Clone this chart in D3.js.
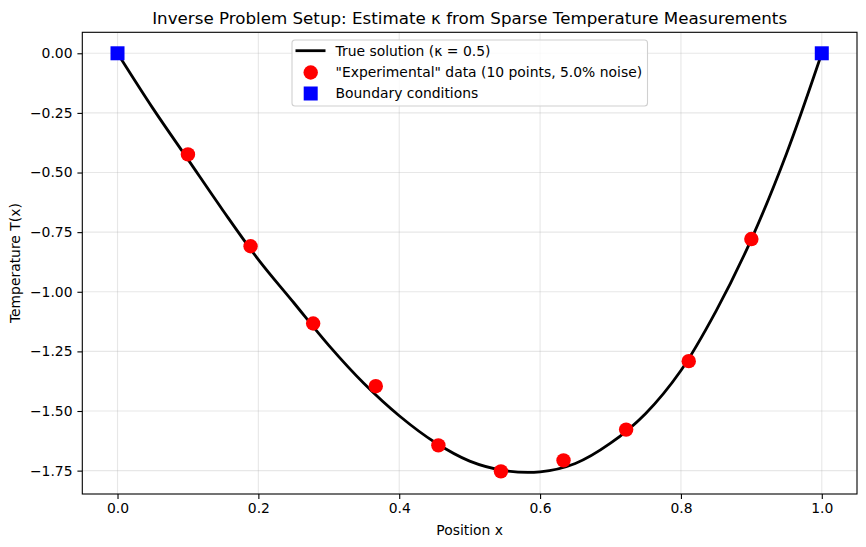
<!DOCTYPE html>
<html>
<head>
<meta charset="utf-8">
<script src="https://cdn.jsdelivr.net/npm/d3@7"></script>
<style>
  body { margin: 0; background: #fff; }
  text { font-family: "DejaVu Sans", sans-serif; fill: #000; }
</style>
</head>
<body>
<div id="chart"></div>
<script>
// True solution at steps of 0.05
var curveX = [0, 0.05, 0.1, 0.15, 0.2, 0.25, 0.3, 0.35, 0.4, 0.45, 0.5,
              0.55, 0.6, 0.65, 0.7, 0.75, 0.8, 0.85, 0.9, 0.95, 1.0];
var curveT = [0, -0.230, -0.445, -0.660, -0.865, -1.045, -1.225, -1.385, -1.520, -1.630, -1.710,
              -1.750, -1.755, -1.720, -1.635, -1.510, -1.330, -1.080, -0.780, -0.420, 0];

// "Experimental" measurements
var dataX = [0.1, 0.1889, 0.2778, 0.3667, 0.4556, 0.5444, 0.6333, 0.7222, 0.8111, 0.9];
var dataT = [-0.424, -0.809, -1.133, -1.396, -1.644, -1.753, -1.707, -1.578, -1.291, -0.779];

// Boundary conditions
var bcX = [0, 1];
var bcT = [0, 0];

var xTicks = [0, 0.2, 0.4, 0.6, 0.8, 1.0];
var yTicks = [0, -0.25, -0.5, -0.75, -1.0, -1.25, -1.5, -1.75];

var legendLabels = ["True solution (\u03ba = 0.5)",
                    "\"Experimental\" data (10 points, 5.0% noise)",
                    "Boundary conditions"];

var width = 866, height = 547;
var plot = {left: 82.3, right: 857, top: 32.3, bottom: 494};

var svg = d3.select("#chart")
    .append("svg")
    .attr("width", width)
    .attr("height", height);

var x = d3.scaleLinear()
    .domain([-0.05, 1.05])
    .range([plot.left, plot.right]);

var y = d3.scaleLinear()
    .domain([0.088, -1.848])
    .range([plot.top, plot.bottom]);

// Grid
svg.append("g")
    .selectAll("line")
    .data(xTicks)
    .enter()
    .append("line")
    .attr("x1", d => x(d)).attr("x2", d => x(d))
    .attr("y1", plot.top).attr("y2", plot.bottom)
    .attr("stroke", "#b0b0b0").attr("stroke-opacity", 0.3).attr("stroke-width", 1.1);

svg.append("g")
    .selectAll("line")
    .data(yTicks)
    .enter()
    .append("line")
    .attr("y1", d => y(d)).attr("y2", d => y(d))
    .attr("x1", plot.left).attr("x2", plot.right)
    .attr("stroke", "#b0b0b0").attr("stroke-opacity", 0.3).attr("stroke-width", 1.1);

// Axes
var xAxis = svg.append("g")
    .attr("transform", "translate(0," + plot.bottom + ")")
    .call(d3.axisBottom(x).tickValues(xTicks).tickFormat(d3.format(".1f")).tickSize(4.9).tickPadding(4.5));

var yAxis = svg.append("g")
    .attr("transform", "translate(" + plot.left + ",0)")
    .call(d3.axisLeft(y).tickValues(yTicks).tickFormat(d3.format(".2f")).tickSize(4.9).tickPadding(4.9));

[xAxis, yAxis].forEach(function(g) {
    g.select(".domain").remove();
    g.selectAll(".tick line").attr("stroke", "#000").attr("stroke-width", 1.1);
    g.selectAll(".tick text").style("font-size", "13.9px").attr("fill", "#000")
        .style("font-family", "DejaVu Sans, sans-serif");
});

// Frame
svg.append("rect")
    .attr("x", plot.left).attr("y", plot.top)
    .attr("width", plot.right - plot.left)
    .attr("height", plot.bottom - plot.top)
    .attr("fill", "none")
    .attr("stroke", "#000")
    .attr("stroke-width", 1.1);

// True solution line
var line = d3.line()
    .x(d => x(d[0]))
    .y(d => y(d[1]))
    .curve(d3.curveCatmullRom);

svg.append("path")
    .datum(curveX.map((v, i) => [v, curveT[i]]))
    .attr("d", line)
    .attr("fill", "none")
    .attr("stroke", "#000")
    .attr("stroke-width", 2.8);

// Measurements
svg.selectAll("dataPoint")
    .data(dataX.map((v, i) => [v, dataT[i]]))
    .enter()
    .append("circle")
    .attr("cx", d => x(d[0]))
    .attr("cy", d => y(d[1]))
    .attr("r", 7.2)
    .attr("fill", "#ff0000");

// Boundary squares
svg.selectAll("bcPoint")
    .data(bcX.map((v, i) => [v, bcT[i]]))
    .enter()
    .append("rect")
    .attr("x", d => x(d[0]) - 7)
    .attr("y", d => y(d[1]) - 7)
    .attr("width", 14)
    .attr("height", 14)
    .attr("fill", "#0000ff");

// Title and labels
svg.append("text")
    .attr("x", (plot.left + plot.right) / 2)
    .attr("y", 24)
    .attr("text-anchor", "middle")
    .style("font-size", "16.7px")
    .text("Inverse Problem Setup: Estimate \u03ba from Sparse Temperature Measurements");

svg.append("text")
    .attr("x", (plot.left + plot.right) / 2)
    .attr("y", 535)
    .attr("text-anchor", "middle")
    .style("font-size", "13.9px")
    .text("Position x");

svg.append("text")
    .attr("transform", "translate(20," + (plot.top + plot.bottom) / 2 + ") rotate(-90)")
    .attr("text-anchor", "middle")
    .style("font-size", "13.9px")
    .text("Temperature T(x)");

// Legend
var legend = svg.append("g").attr("transform", "translate(292,40)");

legend.append("rect")
    .attr("width", 355.5)
    .attr("height", 66)
    .attr("rx", 3)
    .attr("fill", "#fff")
    .attr("fill-opacity", 0.8)
    .attr("stroke", "#d0d0d0")
    .attr("stroke-width", 1.1);

var rowY = [10.7, 32.5, 53.5];

legend.append("line")
    .attr("x1", 3.5).attr("x2", 33.5)
    .attr("y1", rowY[0]).attr("y2", rowY[0])
    .attr("stroke", "#000").attr("stroke-width", 2.8);

legend.append("circle")
    .attr("cx", 18.7).attr("cy", rowY[1]).attr("r", 7.2)
    .attr("fill", "#ff0000");

legend.append("rect")
    .attr("x", 18.7 - 7).attr("y", rowY[2] - 7)
    .attr("width", 14).attr("height", 14)
    .attr("fill", "#0000ff");

legend.selectAll("legendText")
    .data(legendLabels)
    .enter()
    .append("text")
    .attr("x", 43.5)
    .attr("y", (d, i) => rowY[i])
    .attr("dy", "0.35em")
    .style("font-size", "13.9px")
    .text(d => d);
</script>
</body>
</html>
